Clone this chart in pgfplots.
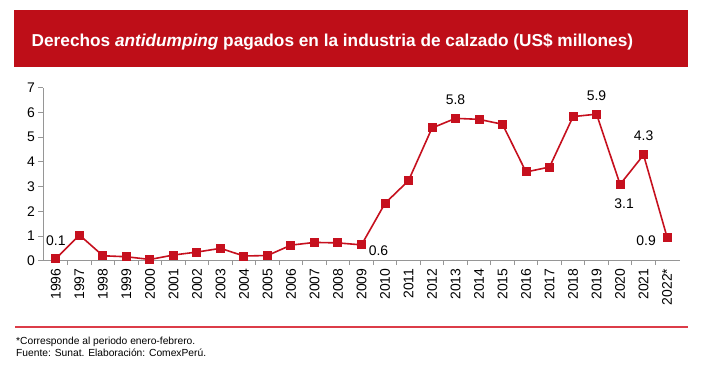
\documentclass[border=0pt]{standalone}
\usepackage{pgfplots}
\pgfplotsset{compat=1.18}
\usepackage{fontspec}
\setmainfont{Liberation Sans}
\definecolor{cxred}{RGB}{190,14,24}
\definecolor{linered}{RGB}{198,16,30}
\definecolor{axgray}{RGB}{150,150,150}
\definecolor{footred}{RGB}{220,60,72}
\begin{document}
\begin{tikzpicture}
\fill[white] (0,0) rectangle (705bp,-369bp);
\fill[cxred] (14bp,-10bp) rectangle (688bp,-67bp);
\node[anchor=west, text=white, font=\fontsize{17.3}{20}\selectfont\bfseries, inner sep=0] at (31.5bp,-42bp) {Derechos \textit{antidumping} pagados en la industria de calzado (US\$ millones)};
\begin{axis}[
  at={(43bp,-260.7bp)}, anchor=south west, scale only axis,
  width=637bp, height=173bp,
  xmin=-0.55, xmax=26.55, ymin=0, ymax=7,
  axis lines=left, axis line style={axgray, -, line width=0.9bp},
  tick align=outside, major tick length=4.5bp, minor tick length=4.5bp,
  tick style={axgray, line width=0.9bp},
  ytick={0,1,...,7},
  xtick={0,1,...,26},
  xticklabels={1996,1997,1998,1999,2000,2001,2002,2003,2004,2005,2006,2007,2008,2009,2010,2011,2012,2013,2014,2015,2016,2017,2018,2019,2020,2021,2022*},
  major x tick style={draw=none},
  minor x tick num=1,
  x tick label style={rotate=90, anchor=east, font=\fontsize{14}{16}\selectfont},
  y tick label style={font=\fontsize{14}{16}\selectfont},
  /pgf/number format/assume math mode=true,
  clip=false,
]
\addplot[linered, line width=1.6bp, mark=square*, mark size=3.7bp, mark options={solid, fill=linered}]
  coordinates {
  (0,0.08) (1,1.04) (2,0.20) (3,0.16) (4,0.05) (5,0.23) (6,0.35) (7,0.50) (8,0.19)
  (9,0.21) (10,0.63) (11,0.74) (12,0.72) (13,0.64) (14,2.32) (15,3.24) (16,5.37)
  (17,5.76) (18,5.72) (19,5.52) (20,3.59) (21,3.79) (22,5.83) (23,5.93) (24,3.09)
  (25,4.28) (26,0.95)
  };
\begin{scope}[every node/.style={font=\fontsize{14}{16}\selectfont, inner sep=0}]
\node[yshift=18bp] at (axis cs:0,0.08) {0.1};
\node[xshift=17bp, yshift=-6bp] at (axis cs:13,0.64) {0.6};
\node[yshift=19bp] at (axis cs:17,5.76) {5.8};
\node[yshift=18bp] at (axis cs:23,5.93) {5.9};
\node[yshift=19bp] at (axis cs:25,4.28) {4.3};
\node[yshift=-19bp, xshift=4bp] at (axis cs:24,3.09) {3.1};
\node[xshift=-21bp, yshift=-3bp] at (axis cs:26,0.95) {0.9};
\end{scope}
\end{axis}
\draw[draw=footred, line width=2bp] (15bp,-327.3bp) -- (688bp,-327.3bp);
\node[anchor=north west, align=left, inner sep=0, font=\fontsize{10.3}{12.3}\selectfont] at (16bp,-337bp) {*Corresponde al periodo enero-febrero.\\Fuente: Sunat. Elaboración: ComexPerú.};
\end{tikzpicture}
\end{document}
